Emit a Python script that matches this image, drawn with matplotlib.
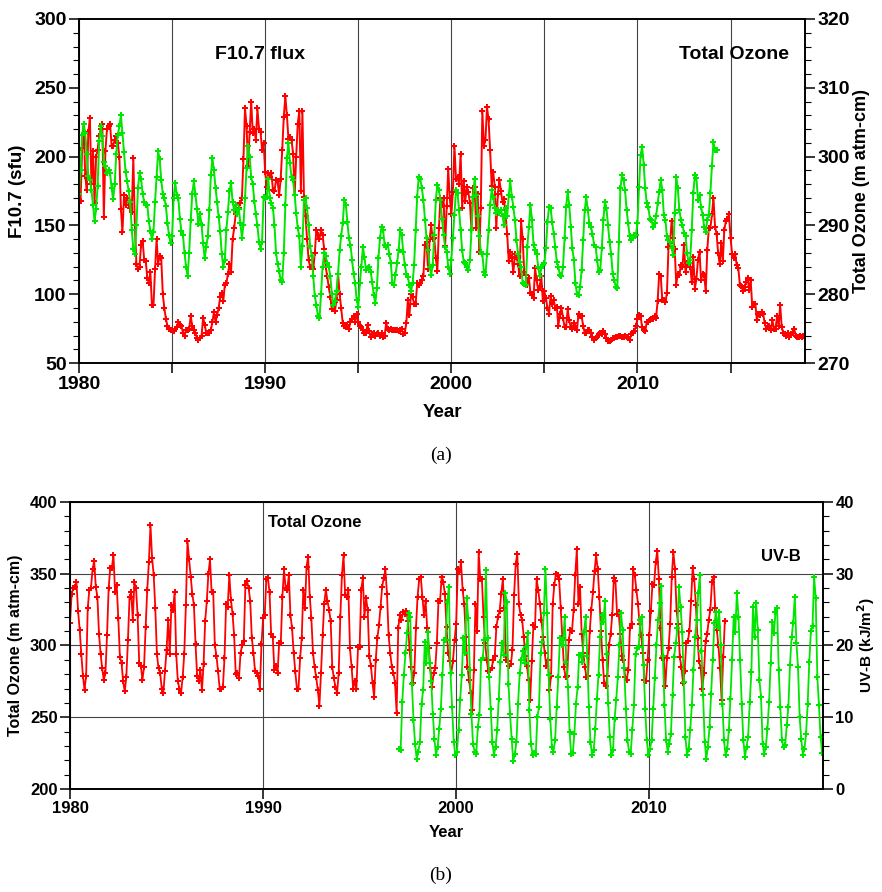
import numpy as np
import matplotlib
matplotlib.use("Agg")
import matplotlib.pyplot as plt
from matplotlib.ticker import MultipleLocator, FuncFormatter

plt.rcParams['font.family'] = ['Liberation Sans', 'DejaVu Sans']
plt.rcParams['font.weight'] = 'bold'

# ---- panel (a): monthly F10.7 flux (sfu), Jan 1980 .. Dec 2018
f107 = [
    205, 168, 206, 224, 186, 176, 218, 228, 180, 204, 166, 200,  # 1980
    205, 215, 220, 224, 156, 204, 220, 222, 224, 208, 208, 212,  # 1981
    215, 210, 200, 162, 145, 172, 165, 170, 165, 163, 160, 199,  # 1982
    150, 122, 118, 120, 136, 139, 125, 124, 112, 108, 116, 92,   # 1983
    92, 118, 140, 122, 128, 126, 100, 90, 82, 77, 75, 74,        # 1984
    74, 73, 75, 76, 80, 78, 77, 72, 70, 74, 74, 75,              # 1985
    84, 77, 74, 72, 68, 67, 68, 70, 83, 78, 72, 72,              # 1986
    72, 74, 80, 87, 80, 85, 90, 98, 101, 95, 107, 108,           # 1987
    115, 122, 116, 140, 148, 158, 160, 163, 166, 170, 198, 235,  # 1988
    222, 193, 218, 240, 217, 220, 212, 235, 220, 218, 205, 210,  # 1989
    189, 178, 188, 185, 188, 176, 175, 183, 182, 172, 184, 205,  # 1990
    229, 244, 230, 213, 214, 212, 202, 172, 200, 224, 233, 175,  # 1991
    233, 171, 157, 140, 125, 120, 120, 118, 130, 147, 143, 140,  # 1992
    147, 143, 133, 120, 113, 105, 98, 89, 93, 88, 96, 115,       # 1993
    100, 90, 79, 77, 76, 78, 75, 80, 82, 84, 80, 86,             # 1994
    80, 77, 76, 74, 72, 72, 78, 73, 69, 71, 72, 70,              # 1995
    71, 72, 70, 72, 69, 70, 79, 75, 74, 75, 74, 74,              # 1996
    74, 74, 73, 74, 75, 71, 72, 79, 96, 85, 100, 98,             # 1997
    93, 93, 108, 107, 108, 110, 113, 136, 138, 118, 140, 150,    # 1998
    140, 141, 126, 117, 148, 170, 165, 170, 135, 164, 191, 170,  # 1999
    158, 174, 208, 184, 185, 180, 202, 163, 182, 168, 178, 174,  # 2000
    166, 147, 177, 178, 148, 173, 131, 163, 233, 208, 212, 236,  # 2001
    227, 205, 179, 189, 178, 148, 173, 183, 175, 167, 169, 157,  # 2002
    144, 124, 131, 126, 116, 129, 127, 122, 113, 153, 140, 116,  # 2003
    114, 107, 112, 101, 100, 97, 119, 110, 103, 106, 113, 95,    # 2004
    102, 97, 90, 86, 99, 93, 96, 90, 91, 77, 86, 90,             # 2005
    83, 76, 76, 89, 81, 76, 75, 79, 77, 74, 86, 84,              # 2006
    84, 77, 72, 72, 74, 74, 72, 69, 67, 68, 69, 71,              # 2007
    72, 71, 73, 71, 68, 66, 66, 67, 68, 68, 69, 69,              # 2008
    70, 70, 69, 69, 70, 69, 68, 67, 71, 72, 73, 77,              # 2009
    82, 85, 84, 76, 74, 73, 80, 80, 81, 82, 82, 84,              # 2010
    83, 95, 115, 113, 96, 96, 94, 101, 134, 137, 153, 141,       # 2011
    133, 107, 115, 114, 121, 120, 136, 116, 123, 123, 120, 109,  # 2012
    127, 104, 111, 125, 131, 110, 115, 114, 102, 132, 148, 148,  # 2013
    158, 170, 149, 144, 130, 122, 137, 124, 147, 153, 155, 158,  # 2014
    141, 129, 126, 129, 121, 119, 107, 106, 102, 105, 109, 112,  # 2015
    103, 110, 91, 93, 93, 81, 86, 85, 87, 86, 79, 75,            # 2016
    77, 77, 74, 81, 75, 75, 84, 77, 92, 76, 72, 71,              # 2017
    70, 72, 69, 71, 72, 75, 70, 69, 69, 70, 69, 70,              # 2018
]

# ---- panel (a): monthly total ozone (m atm-cm), Jan 1980 .. Apr 2014
ozone_a = [
    294.6, 298.0, 303.2, 304.8, 303.4, 300.4, 297.2, 296.6, 295.2, 293.0, 290.6, 292.4,  # 1980
    295.8, 302.2, 304.4, 303.0, 299.2, 298.6, 297.6, 298.0, 297.6, 295.4, 293.8, 296.0,  # 1981
    300.4, 303.2, 304.4, 306.0, 303.4, 300.6, 297.8, 296.4, 295.0, 293.4, 289.4, 286.6,  # 1982
    285.8, 290.0, 295.4, 297.6, 296.8, 294.6, 293.4, 293.0, 293.0, 290.6, 289.2, 288.0,  # 1983
    289.0, 293.4, 297.0, 300.8, 299.6, 296.6, 294.6, 294.0, 292.8, 290.4, 288.6, 287.4,  # 1984
    288.4, 294.0, 296.2, 294.4, 294.0, 291.0, 289.2, 288.6, 286.0, 284.0, 282.6, 286.0,  # 1985
    290.8, 294.6, 296.4, 294.6, 292.4, 290.2, 291.6, 290.0, 287.4, 285.2, 286.8, 288.4,  # 1986
    292.2, 297.4, 299.8, 298.0, 295.4, 293.4, 291.2, 289.2, 285.8, 284.0, 285.0, 289.4,  # 1987
    292.0, 295.0, 296.2, 293.4, 292.2, 293.0, 291.6, 292.4, 290.4, 288.2, 290.0, 294.0,  # 1988
    298.4, 301.6, 300.0, 297.0, 296.0, 293.6, 291.6, 290.0, 287.6, 286.6, 287.6, 294.2,  # 1989
    294.0, 294.2, 296.8, 294.0, 293.2, 292.6, 290.0, 286.0, 284.4, 283.4, 282.0, 281.8,  # 1990
    286.0, 293.0, 299.8, 302.0, 299.0, 297.0, 296.6, 294.4, 291.8, 289.6, 288.4, 284.0,  # 1991
    287.0, 293.7, 294.0, 292.5, 290.0, 287.0, 285.5, 282.6, 279.7, 278.5, 276.8, 276.5,  # 1992
    280.0, 284.0, 286.0, 285.5, 284.5, 284.0, 282.6, 280.0, 278.5, 279.0, 280.5, 283.0,  # 1993
    286.4, 288.5, 290.3, 293.7, 293.0, 290.5, 288.1, 287.2, 285.0, 283.0, 281.6, 279.2,  # 1994
    278.2, 281.6, 284.0, 286.9, 285.4, 283.5, 283.8, 284.0, 283.3, 281.8, 279.9, 278.7,  # 1995
    280.9, 285.2, 288.1, 289.7, 289.3, 287.2, 286.9, 287.2, 285.9, 284.5, 281.6, 281.3,  # 1996
    282.8, 284.5, 286.4, 289.3, 288.6, 286.2, 284.2, 283.0, 282.5, 281.3, 280.4, 281.6,  # 1997
    284.2, 289.3, 294.2, 297.1, 296.8, 295.4, 293.7, 290.8, 288.1, 286.4, 284.0, 282.8,  # 1998
    284.2, 288.6, 293.7, 295.9, 295.1, 293.7, 291.0, 288.6, 286.9, 286.2, 284.0, 283.0,  # 1999
    285.0, 288.1, 291.5, 295.1, 294.7, 292.2, 289.3, 286.4, 284.7, 284.5, 284.0, 283.5,  # 2000
    285.0, 289.3, 294.2, 296.8, 294.4, 291.3, 288.4, 286.2, 285.9, 283.3, 282.8, 285.9,  # 2001
    289.3, 293.0, 295.1, 294.2, 292.5, 291.8, 292.2, 291.8, 292.2, 291.3, 290.0, 292.5,  # 2002
    291.3, 294.4, 296.4, 294.2, 292.7, 290.8, 287.9, 285.9, 284.7, 284.0, 281.6, 281.5,  # 2003
    281.3, 286.9, 289.8, 293.0, 290.8, 287.2, 286.4, 285.9, 284.0, 282.6, 283.8, 284.2,  # 2004
    284.5, 286.7, 290.5, 292.7, 292.5, 290.5, 288.8, 286.9, 284.7, 284.0, 282.8, 282.6,  # 2005
    284.0, 288.1, 292.7, 294.9, 293.0, 289.8, 286.7, 285.0, 281.6, 280.1, 279.9, 281.1,  # 2006
    283.5, 287.9, 292.2, 294.1, 292.2, 290.3, 289.8, 288.8, 287.2, 286.9, 285.0, 283.3,  # 2007
    283.5, 286.7, 290.8, 293.4, 292.5, 290.1, 287.6, 285.9, 283.0, 282.1, 281.1, 280.9,  # 2008
    287.6, 295.4, 297.3, 296.6, 295.1, 292.2, 290.3, 288.4, 287.9, 288.1, 288.6, 288.6,  # 2009
    290.3, 295.6, 300.2, 301.4, 298.8, 295.4, 293.2, 292.7, 291.0, 290.8, 289.8, 290.3,  # 2010
    291.3, 293.2, 294.9, 296.6, 295.2, 291.5, 290.8, 288.4, 287.9, 287.6, 286.7, 285.7,  # 2011
    291.8, 297.1, 295.4, 292.3, 290.8, 290.1, 288.9, 288.4, 286.0, 284.5, 285.0, 289.4,  # 2012
    294.7, 297.3, 296.9, 293.7, 294.4, 292.7, 291.5, 289.8, 289.0, 290.8, 291.5, 294.7,  # 2013
    298.7, 302.1, 300.9, 300.9,                                                          # 2014
]

# ---- panel (b): monthly total ozone (m atm-cm), Jan 1980 .. Dec 2013
ozone_b = [
    316, 336, 340, 341, 344, 324, 311, 294, 279, 269, 279, 326,  # 1980
    339, 340, 353, 359, 341, 334, 308, 294, 284, 276, 281, 307,  # 1981
    340, 354, 354, 363, 337, 342, 319, 292, 288, 275, 268, 278,  # 1982
    304, 334, 337, 318, 344, 340, 321, 288, 286, 276, 285, 313,  # 1983
    339, 358, 384, 361, 349, 326, 294, 284, 281, 270, 267, 282,  # 1984
    297, 318, 294, 328, 325, 337, 294, 275, 270, 267, 278, 294,  # 1985
    328, 373, 360, 348, 336, 328, 301, 279, 275, 283, 269, 287,  # 1986
    317, 331, 350, 360, 337, 337, 300, 293, 282, 270, 270, 271,  # 1987
    291, 329, 327, 349, 332, 322, 307, 280, 281, 277, 295, 300,  # 1988
    303, 342, 345, 340, 331, 305, 295, 282, 281, 279, 270, 301,  # 1989
    319, 321, 346, 347, 337, 308, 306, 283, 286, 281, 302, 302,  # 1990
    334, 353, 340, 339, 349, 321, 312, 295, 282, 270, 270, 291,  # 1991
    305, 339, 326, 355, 362, 334, 319, 295, 285, 278, 269, 258,  # 1992
    281, 307, 329, 339, 331, 325, 317, 285, 277, 271, 267, 281,  # 1993
    320, 349, 363, 335, 334, 339, 298, 285, 270, 275, 270, 299,  # 1994
    299, 339, 347, 320, 333, 325, 293, 286, 274, 264, 290, 305,  # 1995
    314, 327, 341, 347, 353, 336, 307, 295, 285, 281, 274, 253,  # 1996
    312, 321, 318, 323, 322, 324, 317, 297, 285, 274, 281, 312,  # 1997
    334, 346, 348, 334, 321, 331, 312, 298, 284, 271, 281, 284,  # 1998
    302, 331, 331, 348, 344, 336, 313, 295, 289, 281, 289, 304,  # 1999
    315, 353, 351, 358, 339, 329, 306, 285, 276, 267, 255, 283,  # 2000
    329, 310, 365, 346, 346, 320, 302, 290, 282, 283, 284, 290,  # 2001
    293, 313, 320, 324, 336, 346, 326, 290, 289, 286, 287, 297,  # 2002
    335, 357, 364, 329, 321, 318, 306, 293, 286, 276, 262, 289,  # 2003
    314, 313, 346, 339, 329, 318, 306, 295, 286, 290, 269, 279,  # 2004
    329, 342, 350, 349, 346, 326, 305, 285, 278, 279, 304, 311,  # 2005
    310, 325, 349, 367, 329, 341, 308, 295, 285, 278, 279, 310,  # 2006
    325, 337, 352, 363, 353, 334, 310, 290, 274, 272, 279, 300,  # 2007
    308, 321, 347, 345, 322, 323, 308, 293, 290, 278, 276, 283,  # 2008
    312, 315, 353, 349, 339, 329, 315, 307, 295, 276, 275, 290,  # 2009
    307, 324, 343, 342, 358, 366, 346, 312, 291, 291, 272, 291,  # 2010
    298, 315, 348, 365, 353, 324, 315, 292, 285, 274, 282, 302,  # 2011
    303, 310, 331, 354, 346, 328, 305, 289, 284, 270, 281, 303,  # 2012
    308, 318, 325, 344, 348, 326, 311, 300, 284, 262, 292, 317,  # 2013
]

# ---- panel (b): monthly UV-B (kJ/m2), Jan 1997 .. Dec 2018
uvb = [
    5.6, 5.4, 12.1, 15.9, 18.9, 21.7, 24.5, 24.0, 14.7, 9.6, 6.3, 4.2,     # 1997
    5.2, 6.6, 11.9, 13.8, 20.5, 17.5, 21.9, 17.5, 15.0, 10.5, 7.0, 4.7,    # 1998
    5.9, 8.4, 11.2, 15.9, 20.7, 20.7, 26.1, 28.2, 16.1, 11.4, 6.6, 4.7,    # 1999
    5.2, 8.2, 12.4, 15.9, 21.0, 18.9, 26.6, 23.8, 16.6, 10.5, 6.3, 5.2,    # 2000
    4.9, 8.7, 10.3, 18.0, 18.2, 20.7, 30.5, 21.0, 15.6, 11.2, 6.6, 4.7,    # 2001
    5.9, 8.2, 12.6, 17.7, 20.3, 18.7, 27.3, 26.1, 14.7, 10.5, 7.0, 3.9,    # 2002
    4.9, 6.6, 11.9, 16.1, 18.0, 19.3, 17.5, 19.8, 21.7, 11.0, 6.3, 4.8,    # 2003
    5.0, 4.9, 10.0, 11.4, 18.9, 20.5, 24.5, 30.7, 24.5, 15.9, 9.8, 5.9,    # 2004
    5.2, 6.8, 11.4, 15.6, 21.0, 20.0, 20.7, 24.0, 17.7, 14.2, 8.0, 4.9,    # 2005
    5.0, 7.7, 11.9, 14.2, 18.7, 18.7, 17.7, 21.9, 24.0, 18.5, 11.4, 6.6,   # 2006
    4.7, 5.4, 8.4, 12.6, 15.9, 21.2, 24.2, 23.3, 26.2, 18.8, 12.0, 7.3,    # 2007
    4.7, 5.4, 9.8, 12.4, 15.6, 20.0, 24.5, 22.1, 16.8, 11.2, 6.8, 5.2,     # 2008
    4.9, 8.2, 11.7, 18.8, 19.6, 19.8, 23.5, 24.0, 17.3, 11.2, 6.8, 4.7,    # 2009
    5.6, 6.8, 11.2, 15.4, 20.0, 23.5, 25.9, 28.3, 18.5, 11.7, 6.8, 5.2,    # 2010
    6.3, 7.7, 13.1, 18.4, 20.3, 22.4, 28.1, 25.4, 21.9, 14.9, 7.3, 4.7,    # 2011
    5.6, 8.2, 11.7, 16.6, 21.2, 23.5, 27.3, 29.8, 19.3, 13.1, 6.6, 4.2,    # 2012
    5.9, 8.7, 13.3, 18.0, 23.1, 24.6, 22.6, 24.6, 20.0, 11.9, 6.8, 4.7,    # 2013
    5.6, 8.2, 12.6, 18.0, 24.0, 21.9, 27.3, 24.0, 18.0, 11.9, 6.8, 4.5,    # 2014
    5.9, 7.3, 12.1, 16.3, 25.4, 21.2, 25.9, 22.1, 15.2, 12.8, 6.3, 4.9,    # 2015
    5.9, 8.4, 12.1, 17.5, 23.3, 21.7, 24.6, 25.2, 16.6, 11.4, 6.8, 5.9,    # 2016
    6.1, 8.9, 11.4, 17.3, 21.2, 23.2, 26.8, 20.3, 17.0, 10.0, 7.0, 4.8,    # 2017
    5.6, 7.7, 11.9, 17.7, 22.0, 22.7, 29.6, 26.6, 15.6, 11.7, 7.3, 5.0,    # 2018
]

t_f107 = 1980 + np.arange(len(f107)) / 12
t_oza = 1980 + np.arange(len(ozone_a)) / 12
t_ozb = 1980 + np.arange(len(ozone_b)) / 12
t_uvb = 1997.04 + np.arange(len(uvb)) / 12

red = '#ff0000'
green = '#00e600'
serif = ['Liberation Serif', 'DejaVu Serif']

fig = plt.figure(figsize=(8.82, 8.92), dpi=100)


def style(ax, tick_fs):
    for s in ax.spines.values():
        s.set_linewidth(1.2)
    ax.tick_params(which='major', direction='out', length=7, width=1.1, labelsize=tick_fs, pad=2)
    ax.tick_params(which='minor', direction='out', length=4, width=0.8)
    for lab in ax.get_xticklabels() + ax.get_yticklabels():
        lab.set_fontweight('bold')


# ---------------- panel (a)
fa = 14
kw_a = dict(lw=1.4, marker='P', ms=4.3, mew=0)
ax1 = fig.add_axes([0.0896, 0.593, 0.8231, 0.3857])
ax1.plot(t_f107, f107, color=red, **kw_a)
ax1.set_xlim(1980, 2019)
ax1.set_ylim(50, 300)
ax1.xaxis.set_major_locator(MultipleLocator(5))
ax1.xaxis.set_major_formatter(FuncFormatter(lambda v, p: f'{int(v)}' if int(v) % 10 == 0 else ''))
ax1.yaxis.set_major_locator(MultipleLocator(50))
ax1.yaxis.set_minor_locator(MultipleLocator(10))
ax1.grid(axis='x', color='#444444', lw=0.8)
ax1.set_axisbelow(True)
ax1.set_ylabel('F10.7 (sfu)', fontsize=13.5, fontweight='bold', labelpad=6)
ax1.set_xlabel('Year', fontsize=13.5, fontweight='bold', labelpad=8)
ax1.text(1989.7, 274, 'F10.7 flux', ha='center', va='center', fontsize=fa, fontweight='bold')
ax1.text(2015.2, 274, 'Total Ozone', ha='center', va='center', fontsize=fa, fontweight='bold')
style(ax1, fa)

ax2 = ax1.twinx()
ax2.plot(t_oza, ozone_a, color=green, **kw_a)
ax2.set_ylim(270, 320)
ax2.yaxis.set_major_locator(MultipleLocator(10))
ax2.yaxis.set_minor_locator(MultipleLocator(2))
ax2.set_ylabel('Total Ozone (m atm-cm)', fontsize=13, fontweight='bold', labelpad=2)
style(ax2, fa)

fig.text(0.5, 0.489, '(a)', ha='center', va='center', fontsize=14, family=serif, fontweight='normal')

# ---------------- panel (b)
fb = 12
kw_b = dict(lw=1.3, marker='P', ms=3.8, mew=0)
ax3 = fig.add_axes([0.0794, 0.1155, 0.8537, 0.3217])
ax3.plot(t_ozb, ozone_b, color=red, **kw_b)
ax3.set_xlim(1980, 2019)
ax3.set_ylim(200, 400)
ax3.xaxis.set_major_locator(MultipleLocator(10))
ax3.yaxis.set_major_locator(MultipleLocator(50))
ax3.yaxis.set_minor_locator(MultipleLocator(10))
ax3.grid(True, which='major', color='#444444', lw=0.8)
ax3.set_axisbelow(True)
ax3.set_ylabel('Total Ozone (m atm-cm)', fontsize=11.5, fontweight='bold', labelpad=5)
ax3.set_xlabel('Year', fontsize=fb, fontweight='bold', labelpad=6)
ax3.text(1992.7, 386, 'Total Ozone', ha='center', va='center', fontsize=fb, fontweight='bold')
ax3.text(2016.8, 362, 'UV-B', ha='center', va='center', fontsize=fb, fontweight='bold')
style(ax3, fb)

ax4 = ax3.twinx()
ax4.plot(t_uvb, uvb, color=green, **kw_b)
ax4.set_ylim(0, 40)
ax4.yaxis.set_major_locator(MultipleLocator(10))
ax4.yaxis.set_minor_locator(MultipleLocator(2))
ax4.set_ylabel('UV-B (kJ/m$^\\mathbf{2}$)', fontsize=11, fontweight='bold', labelpad=1)
style(ax4, fb)

fig.text(0.5, 0.019, '(b)', ha='center', va='center', fontsize=14, family=serif, fontweight='normal')

fig.savefig('out.png', dpi=100)
